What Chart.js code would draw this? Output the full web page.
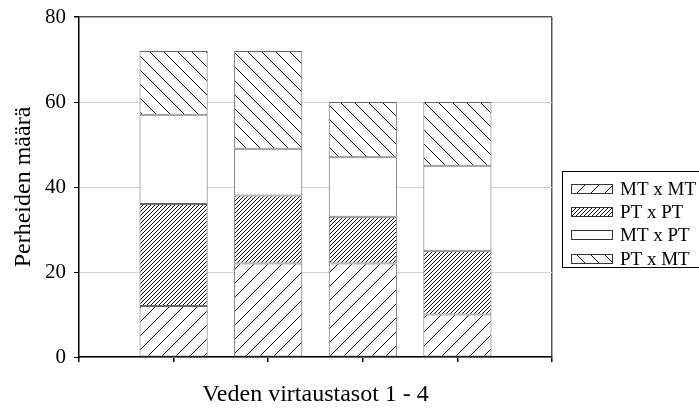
<!DOCTYPE html>
<html>
<head>
<meta charset="utf-8">
<script src="https://cdn.jsdelivr.net/npm/chart.js@4.4.0/dist/chart.umd.min.js"></script>
<style>
  body { margin: 0; background: #fff; }
  #wrap { width: 699px; height: 410px; }
</style>
</head>
<body>
<div id="wrap"><canvas id="chart" width="699" height="410"></canvas></div>
<script>
// data
var categories = ['1', '2', '3', '4'];
var seriesNames = ['MT x MT', 'PT x PT', 'MT x PT', 'PT x MT'];
var mtXmt = [12, 22, 22, 10];
var ptXpt = [24, 16, 11, 15];
var mtXpt = [21, 11, 14, 20];
var ptXmt = [15, 23, 13, 15];
var yTicks = [0, 20, 40, 60, 80];

var serif = '"Liberation Serif", "Times New Roman", serif';

// hatch fills
function hatch(size, dir) {
  var c = document.createElement('canvas');
  c.width = size;
  c.height = size;
  var g = c.getContext('2d');
  g.fillStyle = '#fff';
  g.fillRect(0, 0, size, size);
  g.strokeStyle = '#000';
  g.lineWidth = 1;
  g.beginPath();
  if (dir === '/') {
    g.moveTo(0, size); g.lineTo(size, 0);
    g.moveTo(-1, 1); g.lineTo(1, -1);
    g.moveTo(size - 1, size + 1); g.lineTo(size + 1, size - 1);
  } else {
    g.moveTo(0, 0); g.lineTo(size, size);
    g.moveTo(-1, size - 1); g.lineTo(1, size + 1);
    g.moveTo(size - 1, -1); g.lineTo(size + 1, 1);
  }
  g.stroke();
  return g.createPattern(c, 'repeat');
}

var fills = [hatch(14, '/'), hatch(4, '/'), '#ffffff', hatch(14, '\\')];
var seriesValues = [mtXmt, ptXpt, mtXpt, ptXmt];

// empty slots at both ends so the bars sit at 1..4 of a 0..5 axis
var labels = [''].concat(categories, ['']);
function pad(arr) { return [null].concat(arr, [null]); }

var datasets = seriesNames.map(function (name, i) {
  return {
    label: name,
    data: pad(seriesValues[i]),
    backgroundColor: fills[i],
    borderColor: '#666',
    borderWidth: 1,
    borderSkipped: false,
    categoryPercentage: 0.72,
    barPercentage: 1
  };
});

var legendBox = {
  id: 'legendBox',
  afterDraw: function (chart) {
    var ctx = chart.ctx;
    ctx.save();
    ctx.strokeStyle = '#000';
    ctx.lineWidth = 1;
    ctx.strokeRect(562.5, 171.5, 140, 96);
    ctx.font = '19px ' + serif;
    ctx.textBaseline = 'middle';
    chart.data.datasets.forEach(function (ds, i) {
      var y = Math.round(189 + i * 23.2);
      ctx.fillStyle = ds.backgroundColor;
      ctx.fillRect(571, y - 5, 41, 10);
      ctx.strokeStyle = '#333';
      ctx.strokeRect(571.5, y - 4.5, 41, 9);
      ctx.fillStyle = '#000';
      ctx.fillText(ds.label, 620, y + 1);
    });
    ctx.restore();
  }
};

new Chart(document.getElementById('chart'), {
  type: 'bar',
  data: { labels: labels, datasets: datasets },
  plugins: [legendBox],
  options: {
    responsive: false,
    animation: false,
    devicePixelRatio: 1,
    layout: { autoPadding: false, padding: { top: 17, right: 147, left: 0, bottom: 0 } },
    plugins: {
      legend: { display: false },
      tooltip: { enabled: false }
    },
    scales: {
      x: {
        stacked: true,
        offset: false,
        afterFit: function (scale) { scale.height = 53; },
        grid: {
          offset: false,
          drawOnChartArea: true,
          color: function (c) { return c.index === labels.length - 1 ? '#555' : 'rgba(0,0,0,0)'; },
          tickColor: '#000',
          tickLength: 5,
          lineWidth: 1.5
        },
        border: { color: '#000', width: 1.5 },
        ticks: { display: false },
        title: {
          display: true,
          text: 'Veden virtaustasot 1 - 4',
          color: '#000',
          font: { family: serif, size: 24 },
          padding: { top: 0, bottom: 1 }
        }
      },
      y: {
        stacked: true,
        min: yTicks[0],
        max: yTicks[yTicks.length - 1],
        afterFit: function (scale) {
          scale.width = 79;
          scale.paddingTop = 0;
          scale.paddingBottom = 0;
        },
        afterBuildTicks: function (scale) {
          scale.ticks = yTicks.map(function (v) { return { value: v }; });
        },
        grid: {
          color: function (c) {
            if (c.tick.value === yTicks[yTicks.length - 1]) return '#555';
            return '#d4d4d4';
          },
          lineWidth: function (c) { return c.tick.value === yTicks[yTicks.length - 1] ? 1.5 : 1; },
          tickColor: '#000',
          tickLength: 5
        },
        border: { color: '#000', width: 1.5 },
        ticks: {
          color: '#000',
          padding: 8,
          font: { family: serif, size: 21 }
        },
        title: {
          display: true,
          text: 'Perheiden määrä',
          color: '#000',
          font: { family: serif, size: 24 },
          padding: { top: 9, bottom: 0 }
        }
      }
    }
  }
});
</script>
</body>
</html>
